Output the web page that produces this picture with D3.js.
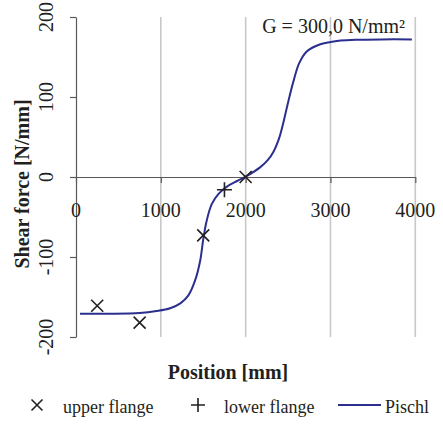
<!DOCTYPE html>
<html>
<head>
<meta charset="utf-8">
<script src="https://cdn.jsdelivr.net/npm/d3@7"></script>
<style>
    body { margin: 0; background: #fff; }
</style>
</head>
<body>
<div id="chart"></div>
<script>
const LINE_COLOR = "#2b2f8e";
const MARK_COLOR = "#231f20";
const FONT = "'Liberation Serif', 'Times New Roman', Times, 'DejaVu Serif', serif";

// values
const xTicks = [0, 1000, 2000, 3000, 4000];
const yTicks = [-200, -100, 0, 100, 200];
const gridX = [1000, 2000, 3000, 4000];

const upperX = [250, 750, 1500, 2000];
const upperY = [-161, -182, -73, 0];
const lowerX = [1750];
const lowerY = [-16];

const pischlX = [47, 400, 750, 950, 1110, 1230, 1325, 1405, 1465, 1500, 1540, 1600, 1680, 1780, 1900, 2010, 2170, 2260, 2330, 2390, 2440, 2480, 2520, 2570, 2630, 2720, 2880, 3020, 3120, 3300, 3600, 3960];
const pischlY = [-171, -171, -170, -167.5, -164, -158, -148, -129, -104, -78, -55, -34, -21, -12, -5, 1, 12, 21, 32, 47, 66, 84, 102, 122, 142, 157, 166, 169, 170.5, 171.5, 172, 172];

const W = 443, H = 428;
const margin = { left: 76, right: 27.7, top: 17, bottom: 91 };
const pw = W - margin.left - margin.right;
const ph = H - margin.top - margin.bottom;

const svg = d3.select("#chart").append("svg")
    .attr("width", W).attr("height", H)
    .attr("font-family", FONT);

const x = d3.scaleLinear().domain([0, 4000]).range([margin.left, margin.left + pw]);
const y = d3.scaleLinear().domain([-200, 200]).range([margin.top + ph, margin.top]);

// vertical gridlines
svg.append("g")
    .selectAll("line")
    .data(gridX)
    .join("line")
    .attr("x1", d => x(d)).attr("x2", d => x(d))
    .attr("y1", y(200)).attr("y2", y(-200))
    .attr("stroke", "#c8c8c8")
    .attr("stroke-width", 1.6);

// y axis
const yAxis = d3.axisLeft(y).tickValues(yTicks).tickSize(6).tickSizeOuter(0).tickFormat("");
svg.append("g")
    .attr("transform", "translate(" + margin.left + ",0)")
    .call(yAxis)
    .call(g => g.select(".domain").attr("stroke", "#595959").attr("stroke-width", 1.2))
    .call(g => g.selectAll(".tick line").attr("stroke", "#595959").attr("stroke-width", 1.2));

// x axis along zero
const xAxis = d3.axisBottom(x).tickValues(xTicks).tickSize(6).tickSizeOuter(0).tickFormat("");
svg.append("g")
    .attr("transform", "translate(0," + y(0) + ")")
    .call(xAxis)
    .call(g => g.select(".domain").attr("stroke", "#595959").attr("stroke-width", 1.2))
    .call(g => g.selectAll(".tick line").attr("stroke", "#595959").attr("stroke-width", 1.2));

// tick labels
svg.append("g")
    .selectAll("text")
    .data(xTicks)
    .join("text")
    .attr("x", d => x(d))
    .attr("y", y(0) + 40)
    .attr("text-anchor", "middle")
    .attr("font-size", 20)
    .attr("fill", MARK_COLOR)
    .text(d => d);

svg.append("g")
    .selectAll("text")
    .data(yTicks)
    .join("text")
    .attr("transform", d => "translate(" + 53 + "," + y(d) + ") rotate(-90)")
    .attr("text-anchor", "middle")
    .attr("font-size", 20)
    .attr("fill", MARK_COLOR)
    .text(d => d);

// axis titles
svg.append("text")
    .attr("transform", "translate(29," + 184 + ") rotate(-90)")
    .attr("text-anchor", "middle")
    .attr("font-size", 20)
    .attr("font-weight", "bold")
    .attr("fill", MARK_COLOR)
    .text("Shear force [N/mm]");

svg.append("text")
    .attr("x", 228)
    .attr("y", 379)
    .attr("text-anchor", "middle")
    .attr("font-size", 20)
    .attr("font-weight", "bold")
    .attr("fill", MARK_COLOR)
    .text("Position [mm]");

svg.append("text")
    .attr("x", 405)
    .attr("y", 33)
    .attr("text-anchor", "end")
    .attr("font-size", 20)
    .attr("fill", MARK_COLOR)
    .text("G = 300,0 N/mm²");

// Pischl curve
const line = d3.line()
    .x(d => x(d[0]))
    .y(d => y(d[1]))
    .curve(d3.curveCatmullRom.alpha(0.5));

svg.append("path")
    .datum(pischlX.map((d, i) => [d, pischlY[i]]))
    .attr("d", line)
    .attr("fill", "none")
    .attr("stroke", LINE_COLOR)
    .attr("stroke-width", 2);

function crossPath(s) {
    return "M" + (-s) + "," + (-s) + "L" + s + "," + s + "M" + (-s) + "," + s + "L" + s + "," + (-s);
}
function plusPath(s) {
    return "M" + (-s) + ",0L" + s + ",0M0," + (-s) + "L0," + s;
}

svg.append("g")
    .selectAll("path")
    .data(upperX.map((d, i) => [d, upperY[i]]))
    .join("path")
    .attr("transform", d => "translate(" + x(d[0]) + "," + y(d[1]) + ")")
    .attr("d", crossPath(6))
    .attr("stroke", MARK_COLOR)
    .attr("stroke-width", 1.6);

svg.append("g")
    .selectAll("path")
    .data(lowerX.map((d, i) => [d, lowerY[i]]))
    .join("path")
    .attr("transform", d => "translate(" + x(d[0]) + "," + y(d[1]) + ")")
    .attr("d", plusPath(7.5))
    .attr("stroke", MARK_COLOR)
    .attr("stroke-width", 1.6);

// legend
const legend = svg.append("g").attr("transform", "translate(0,405)");

legend.append("path")
    .attr("transform", "translate(37,0)")
    .attr("d", crossPath(5.5))
    .attr("stroke", MARK_COLOR)
    .attr("stroke-width", 1.6);
legend.append("text")
    .attr("x", 63).attr("y", 8)
    .attr("font-size", 18)
    .attr("fill", MARK_COLOR)
    .text("upper flange");

legend.append("path")
    .attr("transform", "translate(198,0)")
    .attr("d", plusPath(7))
    .attr("stroke", MARK_COLOR)
    .attr("stroke-width", 1.6);
legend.append("text")
    .attr("x", 224).attr("y", 8)
    .attr("font-size", 18)
    .attr("fill", MARK_COLOR)
    .text("lower flange");

legend.append("line")
    .attr("x1", 338).attr("x2", 381)
    .attr("y1", 0).attr("y2", 0)
    .attr("stroke", LINE_COLOR)
    .attr("stroke-width", 2);
legend.append("text")
    .attr("x", 385).attr("y", 8)
    .attr("font-size", 18)
    .attr("fill", MARK_COLOR)
    .text("Pischl");
</script>
</body>
</html>
